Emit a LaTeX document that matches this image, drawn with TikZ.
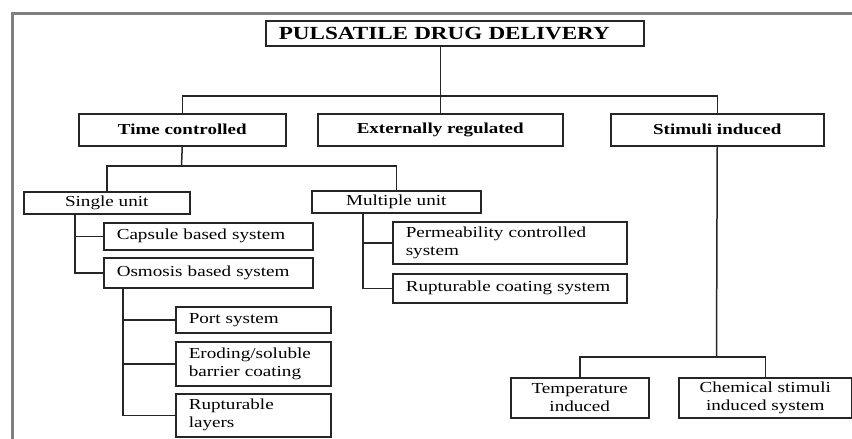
\documentclass[tikz,border=0pt]{standalone}
\usepackage{fontspec}
\setmainfont{Liberation Serif}[FakeStretch=1.25]
\usepackage{tikz}
\usetikzlibrary{positioning}

\newcommand\plainsize{\fontsize{15.3}{18}\selectfont}
\newcommand\headsize{\fontsize{15.2}{18}\selectfont\bfseries}

\begin{document}
\begin{tikzpicture}[x=1pt, y=-1pt,
		box/.style={draw=black!85, line width=1.5pt, rectangle, inner sep=0pt, anchor=north west, font=\plainsize},
		headbox/.style={box, font=\headsize},
		leftbox/.style={box, align=left, inner xsep=13pt},
		link/.style={draw=black!85, line width=1.5pt}]
	\useasboundingbox (0,0) rectangle (852,439);
	% frame round the chart
	\draw[black!50, line width=3pt] (12,439) -- (12,13) -- (852,13);

	% Draw the boxes
	\node[leftbox, font=\fontsize{18.5}{20}\selectfont\bfseries, text width=352pt, minimum height=25pt] (title) at (265,20) {PULSATILE DRUG DELIVERY};
	\node[headbox, minimum width=207pt, minimum height=32pt] (time) at (78,113) {Time controlled};
	\node[headbox, minimum width=245pt, minimum height=32pt] (ext) at (317,113) {Externally regulated};
	\node[headbox, minimum width=213pt, minimum height=32pt] (stim) at (610,113) {Stimuli induced};

	\node[box, minimum width=166pt, minimum height=22pt] (single) at (23,191) {Single unit};
	\node[box, minimum width=169pt, minimum height=22pt] (multiple) at (311,190) {Multiple unit};

	\node[leftbox, text width=183pt, minimum height=27pt] (capsule) at (103,222) {Capsule based system};
	\node[leftbox, text width=183pt, minimum height=30pt] (osmosis) at (103,257) {Osmosis based system};

	\node[leftbox, text width=129pt, minimum height=26pt] (port) at (175,306) {Port system};
	\node[leftbox, text width=129pt, minimum height=44pt] (eroding) at (175,341) {Eroding/soluble\\barrier coating};
	\node[leftbox, text width=129pt, minimum height=43pt] (layers) at (175,393) {Rupturable\\layers};

	\node[leftbox, text width=208pt, minimum height=42pt] (perm) at (392,221) {Permeability controlled\\system};
	\node[leftbox, text width=208pt, minimum height=29pt] (coating) at (392,273) {Rupturable coating system};

	\node[box, align=center, minimum width=138pt, minimum height=40pt] (temp) at (510,377) {Temperature\\induced};
	\node[box, align=center, minimum width=173pt, minimum height=40pt] (chem) at (678,377) {Chemical stimuli\\induced system};

	% bus points and stems
	\coordinate (bus1) at (439.5,96);
	\coordinate (bus2) at (181.5,166);
	\coordinate (bus3) at (716.5,357);
	\coordinate (stem1) at (75,213);
	\coordinate (stem2) at (123,287);
	\coordinate (stem3) at (363,212);

	% Connect the boxes
	\draw[link] (title.south -| ext.north) -- (ext.north);
	\draw[link] (time.north) |- (bus1) -| (stim.north);
	\draw[link] (time.south) -- (bus2);
	\draw[link] (single.north) |- (bus2) -| (multiple.north);
	\draw[link] (stem1) |- (capsule.west);
	\draw[link] (stem1) |- (osmosis.west);
	\draw[link] (stem2) |- (port.west);
	\draw[link] (stem2) |- (eroding.west);
	\draw[link] (stem2) |- (layers.west);
	\draw[link] (stem3) |- (perm.west);
	\draw[link] (stem3) |- (coating.west);
	\draw[link] (stim.south) -- (bus3);
	\draw[link] (temp.north) |- (bus3) -| (chem.north);
\end{tikzpicture}
\end{document}
